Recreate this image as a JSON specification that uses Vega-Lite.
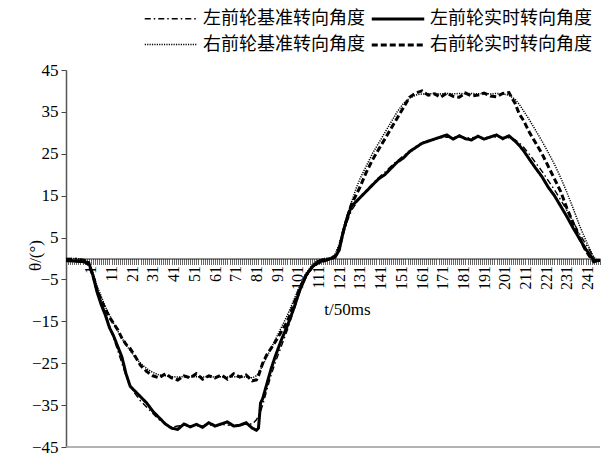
{
  "$schema": "https://vega.github.io/schema/vega-lite/v6.json",
  "width": 534,
  "height": 377,
  "autosize": {"type": "none"},
  "padding": {"left": 66, "top": 70, "right": 8, "bottom": 7},
  "background": "white",
  "config": {"view": {"stroke": null}, "font": "Liberation Serif"},
  "layer": [
    {
      "data": {"values": [
        {"t": -11, "左前轮基准转向角度": 0, "左前轮实时转向角度": -0.5, "右前轮基准转向角度": 0, "右前轮实时转向角度": -0.5},
        {"t": -6, "左前轮基准转向角度": 0, "左前轮实时转向角度": -0.6, "右前轮基准转向角度": 0, "右前轮实时转向角度": -0.6},
        {"t": -2, "左前轮基准转向角度": -0.3, "左前轮实时转向角度": -0.8, "右前轮基准转向角度": -0.3, "右前轮实时转向角度": -0.8},
        {"t": 0, "左前轮基准转向角度": -1, "左前轮实时转向角度": -1, "右前轮基准转向角度": -1, "右前轮实时转向角度": -1.5},
        {"t": 2, "左前轮基准转向角度": -3.5, "左前轮实时转向角度": -4, "右前轮基准转向角度": -3.5, "右前轮实时转向角度": -4},
        {"t": 4, "左前轮基准转向角度": -7, "左前轮实时转向角度": -8, "右前轮基准转向角度": -6.5, "右前轮实时转向角度": -7.5},
        {"t": 6, "左前轮基准转向角度": -10, "左前轮实时转向角度": -11, "右前轮基准转向角度": -9, "右前轮实时转向角度": -10},
        {"t": 8, "左前轮基准转向角度": -13, "左前轮实时转向角度": -13.5, "右前轮基准转向角度": -11.5, "右前轮实时转向角度": -12},
        {"t": 10, "左前轮基准转向角度": -16, "左前轮实时转向角度": -16.5, "右前轮基准转向角度": -13.5, "右前轮实时转向角度": -14},
        {"t": 12, "左前轮基准转向角度": -19, "左前轮实时转向角度": -18.5, "右前轮基准转向角度": -15.5, "右前轮实时转向角度": -15.5},
        {"t": 14, "左前轮基准转向角度": -22, "左前轮实时转向角度": -21, "右前轮基准转向角度": -17.3, "右前轮实时转向角度": -17},
        {"t": 16, "左前轮基准转向角度": -25, "左前轮实时转向角度": -23.5, "右前轮基准转向角度": -19, "右前轮实时转向角度": -19},
        {"t": 18, "左前轮基准转向角度": -28, "左前轮实时转向角度": -27.5, "右前轮基准转向角度": -20.6, "右前轮实时转向角度": -20.5},
        {"t": 20, "左前轮基准转向角度": -30.5, "左前轮实时转向角度": -30.5, "右前轮基准转向角度": -22, "右前轮实时转向角度": -21.5},
        {"t": 22, "左前轮基准转向角度": -32, "左前轮实时转向角度": -31.5, "右前轮基准转向角度": -23.3, "右前轮实时转向角度": -23},
        {"t": 25, "左前轮基准转向角度": -34, "左前轮实时转向角度": -33, "右前轮基准转向角度": -25, "右前轮实时转向角度": -25.5},
        {"t": 28, "左前轮基准转向角度": -35.5, "左前轮实时转向角度": -34.5, "右前轮基准转向角度": -26.3, "右前轮实时转向角度": -27},
        {"t": 31, "左前轮基准转向角度": -37, "左前轮实时转向角度": -36.5, "右前轮基准转向角度": -27.2, "右前轮实时转向角度": -28},
        {"t": 34, "左前轮基准转向角度": -38.5, "左前轮实时转向角度": -38, "右前轮基准转向角度": -27.8, "右前轮实时转向角度": -28.5},
        {"t": 37, "左前轮基准转向角度": -39.5, "左前轮实时转向角度": -39.5, "右前轮基准转向角度": -28, "右前轮实时转向角度": -27.5},
        {"t": 40, "左前轮基准转向角度": -40.3, "左前轮实时转向角度": -40.5, "右前轮基准转向角度": -28.2, "右前轮实时转向角度": -28.5},
        {"t": 43, "左前轮基准转向角度": -40, "左前轮实时转向角度": -40.8, "右前轮基准转向角度": -28.3, "右前轮实时转向角度": -29},
        {"t": 46, "左前轮基准转向角度": -39.8, "左前轮实时转向角度": -39.5, "右前轮基准转向角度": -28.2, "右前轮实时转向角度": -28},
        {"t": 49, "左前轮基准转向角度": -40, "左前轮实时转向角度": -40.2, "右前轮基准转向角度": -28.3, "右前轮实时转向角度": -28.5},
        {"t": 52, "左前轮基准转向角度": -39.8, "左前轮实时转向角度": -39.6, "右前轮基准转向角度": -28.2, "右前轮实时转向角度": -27.5},
        {"t": 55, "左前轮基准转向角度": -40, "左前轮实时转向角度": -40.3, "右前轮基准转向角度": -28.3, "右前轮实时转向角度": -28.8},
        {"t": 58, "左前轮基准转向角度": -39.7, "左前轮实时转向角度": -39.2, "右前轮基准转向角度": -28.2, "右前轮实时转向角度": -28},
        {"t": 61, "左前轮基准转向角度": -39.9, "左前轮实时转向角度": -40, "右前轮基准转向角度": -28.3, "右前轮实时转向角度": -28.5},
        {"t": 64, "左前轮基准转向角度": -39.6, "左前轮实时转向角度": -39.5, "右前轮基准转向角度": -28.2, "右前轮实时转向角度": -27.8},
        {"t": 67, "左前轮基准转向角度": -39.8, "左前轮实时转向角度": -39, "右前轮基准转向角度": -28.3, "右前轮实时转向角度": -28.8},
        {"t": 70, "左前轮基准转向角度": -39.6, "左前轮实时转向角度": -40, "右前轮基准转向角度": -28.2, "右前轮实时转向角度": -27.5},
        {"t": 73, "左前轮基准转向角度": -39.8, "左前轮实时转向角度": -39.8, "右前轮基准转向角度": -28.3, "右前轮实时转向角度": -28.3},
        {"t": 76, "左前轮基准转向角度": -39.5, "左前轮实时转向角度": -39.2, "右前轮基准转向角度": -28.3, "右前轮实时转向角度": -27.8},
        {"t": 79, "左前轮基准转向角度": -39.5, "左前轮实时转向角度": -40.5, "右前轮基准转向角度": -28.5, "右前轮实时转向角度": -29.2},
        {"t": 81, "左前轮基准转向角度": -38.5, "左前轮实时转向角度": -41, "右前轮基准转向角度": -28, "右前轮实时转向角度": -29},
        {"t": 82, "左前轮基准转向角度": -37.5, "左前轮实时转向角度": -40.5, "右前轮基准转向角度": -27.3, "右前轮实时转向角度": -28},
        {"t": 83, "左前轮基准转向角度": -36.5, "左前轮实时转向角度": -34.5, "右前轮基准转向角度": -26.5, "右前轮实时转向角度": -26.5},
        {"t": 84, "左前轮基准转向角度": -35, "左前轮实时转向角度": -33.5, "右前轮基准转向角度": -25.5, "右前轮实时转向角度": -25},
        {"t": 86, "左前轮基准转向角度": -31.5, "左前轮实时转向角度": -30, "右前轮基准转向角度": -23.5, "右前轮实时转向角度": -23},
        {"t": 88, "左前轮基准转向角度": -28, "左前轮实时转向角度": -26.5, "右前轮基准转向角度": -21.5, "右前轮实时转向角度": -21.5},
        {"t": 90, "左前轮基准转向角度": -25, "左前轮实时转向角度": -23.5, "右前轮基准转向角度": -19.5, "右前轮实时转向角度": -20},
        {"t": 93, "左前轮基准转向角度": -21, "左前轮实时转向角度": -19.5, "右前轮基准转向角度": -16.5, "右前轮实时转向角度": -17.5},
        {"t": 96, "左前轮基准转向角度": -17, "左前轮实时转向角度": -16, "右前轮基准转向角度": -13.5, "右前轮实时转向角度": -15},
        {"t": 99, "左前轮基准转向角度": -12.5, "左前轮实时转向角度": -12, "右前轮基准转向角度": -10, "右前轮实时转向角度": -11},
        {"t": 102, "左前轮基准转向角度": -8, "左前轮实时转向角度": -7.5, "右前轮基准转向角度": -6.5, "右前轮实时转向角度": -7},
        {"t": 105, "左前轮基准转向角度": -4.5, "左前轮实时转向角度": -4, "右前轮基准转向角度": -3.5, "右前轮实时转向角度": -4},
        {"t": 108, "左前轮基准转向角度": -2, "左前轮实时转向角度": -2, "右前轮基准转向角度": -1.5, "右前轮实时转向角度": -2},
        {"t": 111, "左前轮基准转向角度": -0.5, "左前轮实时转向角度": -0.8, "右前轮基准转向角度": -0.3, "右前轮实时转向角度": -1},
        {"t": 114, "左前轮基准转向角度": 0, "左前轮实时转向角度": -0.5, "右前轮基准转向角度": 0, "右前轮实时转向角度": -0.5},
        {"t": 117, "左前轮基准转向角度": 0, "左前轮实时转向角度": 0, "右前轮基准转向角度": 0.2, "右前轮实时转向角度": 0},
        {"t": 119, "左前轮基准转向角度": 0.5, "左前轮实时转向角度": 0.3, "右前轮基准转向角度": 1, "右前轮实时转向角度": 0.5},
        {"t": 121, "左前轮基准转向角度": 2.5, "左前轮实时转向角度": 2, "右前轮基准转向角度": 3.5, "右前轮实时转向角度": 2.5},
        {"t": 123, "左前轮基准转向角度": 6, "左前轮实时转向角度": 6.5, "右前轮基准转向角度": 7, "右前轮实时转向角度": 6.5},
        {"t": 125, "左前轮基准转向角度": 9, "左前轮实时转向角度": 10, "右前轮基准转向角度": 10.5, "右前轮实时转向角度": 10},
        {"t": 127, "左前轮基准转向角度": 11.5, "左前轮实时转向角度": 12.5, "右前轮基准转向角度": 13.5, "右前轮实时转向角度": 13},
        {"t": 129, "左前轮基准转向角度": 13, "左前轮实时转向角度": 13.5, "右前轮基准转向角度": 16.5, "右前轮实时转向角度": 15},
        {"t": 131, "左前轮基准转向角度": 14.5, "左前轮实时转向角度": 14.5, "右前轮基准转向角度": 19, "右前轮实时转向角度": 17},
        {"t": 134, "左前轮基准转向角度": 16.2, "左前轮实时转向角度": 16, "右前轮基准转向角度": 22, "右前轮实时转向角度": 20.5},
        {"t": 137, "左前轮基准转向角度": 17.8, "左前轮实时转向角度": 17.5, "右前轮基准转向角度": 25, "右前轮实时转向角度": 23.5},
        {"t": 140, "左前轮基准转向角度": 19.3, "左前轮实时转向角度": 19, "右前轮基准转向角度": 27.5, "右前轮实时转向角度": 26},
        {"t": 143, "左前轮基准转向角度": 20.6, "左前轮实时转向角度": 20, "右前轮基准转向角度": 30, "右前轮实时转向角度": 28.5},
        {"t": 146, "左前轮基准转向角度": 22, "左前轮实时转向角度": 21.5, "右前轮基准转向角度": 32.5, "右前轮实时转向角度": 31},
        {"t": 149, "左前轮基准转向角度": 23.3, "左前轮实时转向角度": 23, "右前轮基准转向角度": 35, "右前轮实时转向角度": 33.5},
        {"t": 152, "左前轮基准转向角度": 24.5, "左前轮实时转向角度": 24, "右前轮基准转向角度": 37, "右前轮实时转向角度": 36},
        {"t": 155, "左前轮基准转向角度": 25.7, "左前轮实时转向角度": 25.5, "右前轮基准转向角度": 38.3, "右前轮实时转向角度": 38.5},
        {"t": 158, "左前轮基准转向角度": 26.7, "左前轮实时转向角度": 26.5, "右前轮基准转向角度": 39, "右前轮实时转向角度": 39.5},
        {"t": 161, "左前轮基准转向角度": 27.6, "左前轮实时转向角度": 27.5, "右前轮基准转向角度": 39.3, "右前轮实时转向角度": 40},
        {"t": 164, "左前轮基准转向角度": 28.2, "左前轮实时转向角度": 28, "右前轮基准转向角度": 39.3, "右前轮实时转向角度": 39},
        {"t": 167, "左前轮基准转向角度": 28.6, "左前轮实时转向角度": 28.5, "右前轮基准转向角度": 39.4, "右前轮实时转向角度": 39.3},
        {"t": 170, "左前轮基准转向角度": 28.8, "左前轮实时转向角度": 29, "右前轮基准转向角度": 39.3, "右前轮实时转向角度": 38.5},
        {"t": 173, "左前轮基准转向角度": 29, "左前轮实时转向角度": 29.5, "右前轮基准转向角度": 39.4, "右前轮实时转向角度": 39.5},
        {"t": 176, "左前轮基准转向角度": 28.9, "左前轮实时转向角度": 28.5, "右前轮基准转向角度": 39.3, "右前轮实时转向角度": 38.7},
        {"t": 179, "左前轮基准转向角度": 29, "左前轮实时转向角度": 29.3, "右前轮基准转向角度": 39.4, "右前轮实时转向角度": 38.5},
        {"t": 182, "左前轮基准转向角度": 28.8, "左前轮实时转向角度": 28.6, "右前轮基准转向角度": 39.3, "右前轮实时转向角度": 39.5},
        {"t": 185, "左前轮基准转向角度": 28.8, "左前轮实时转向角度": 28.3, "右前轮基准转向角度": 39.4, "右前轮实时转向角度": 38.8},
        {"t": 188, "左前轮基准转向角度": 29, "左前轮实时转向角度": 29.2, "右前轮基准转向角度": 39.3, "右前轮实时转向角度": 39},
        {"t": 191, "左前轮基准转向角度": 28.8, "左前轮实时转向角度": 28.5, "右前轮基准转向角度": 39.4, "右前轮实时转向角度": 39.5},
        {"t": 194, "左前轮基准转向角度": 29, "左前轮实时转向角度": 29, "右前轮基准转向角度": 39.3, "右前轮实时转向角度": 38.8},
        {"t": 197, "左前轮基准转向角度": 29, "左前轮实时转向角度": 29.5, "右前轮基准转向角度": 39.4, "右前轮实时转向角度": 38.6},
        {"t": 200, "左前轮基准转向角度": 28.9, "左前轮实时转向角度": 28.6, "右前轮基准转向角度": 39.3, "右前轮实时转向角度": 39.4},
        {"t": 203, "左前轮基准转向角度": 28.8, "左前轮实时转向角度": 29.3, "右前轮基准转向角度": 39, "右前轮实时转向角度": 39.6},
        {"t": 206, "左前轮基准转向角度": 28.3, "左前轮实时转向角度": 28, "右前轮基准转向角度": 38, "右前轮实时转向角度": 37},
        {"t": 208, "左前轮基准转向角度": 27.6, "左前轮实时转向角度": 27, "右前轮基准转向角度": 36.8, "右前轮实时转向角度": 34.5},
        {"t": 210, "左前轮基准转向角度": 26.6, "左前轮实时转向角度": 25.8, "右前轮基准转向角度": 35.3, "右前轮实时转向角度": 33},
        {"t": 213, "左前轮基准转向角度": 24.8, "左前轮实时转向角度": 23.6, "右前轮基准转向角度": 33, "右前轮实时转向角度": 30},
        {"t": 216, "左前轮基准转向角度": 22.8, "左前轮实时转向角度": 21.5, "右前轮基准转向角度": 30.5, "右前轮实时转向角度": 27.5},
        {"t": 219, "左前轮基准转向角度": 20.8, "左前轮实时转向角度": 19.5, "右前轮基准转向角度": 28, "右前轮实时转向角度": 25},
        {"t": 222, "左前轮基准转向角度": 18.6, "左前轮实时转向角度": 17, "右前轮基准转向角度": 25.3, "右前轮实时转向角度": 22},
        {"t": 225, "左前轮基准转向角度": 16.4, "左前轮实时转向角度": 15, "右前轮基准转向角度": 22.5, "右前轮实时转向角度": 19},
        {"t": 228, "左前轮基准转向角度": 14, "左前轮实时转向角度": 12.5, "右前轮基准转向角度": 19.3, "右前轮实时转向角度": 16},
        {"t": 231, "左前轮基准转向角度": 11.5, "左前轮实时转向角度": 10, "右前轮基准转向角度": 15.8, "右前轮实时转向角度": 12},
        {"t": 234, "左前轮基准转向角度": 8.8, "左前轮实时转向角度": 7.3, "右前轮基准转向角度": 12, "右前轮实时转向角度": 8.5},
        {"t": 237, "左前轮基准转向角度": 6, "左前轮实时转向角度": 4.8, "右前轮基准转向角度": 8, "右前轮实时转向角度": 5},
        {"t": 240, "左前轮基准转向角度": 3.5, "左前轮实时转向角度": 2.3, "右前轮基准转向角度": 4.5, "右前轮实时转向角度": 2},
        {"t": 242, "左前轮基准转向角度": 2, "左前轮实时转向角度": 1, "右前轮基准转向角度": 2.3, "右前轮实时转向角度": 0.5},
        {"t": 244, "左前轮基准转向角度": 0.3, "左前轮实时转向角度": -0.5, "右前轮基准转向角度": 0.3, "右前轮实时转向角度": -0.8},
        {"t": 246, "左前轮基准转向角度": -0.5, "左前轮实时转向角度": -0.5, "右前轮基准转向角度": -0.6, "右前轮实时转向角度": -0.5},
        {"t": 247, "左前轮基准转向角度": -0.5, "左前轮实时转向角度": -0.5, "右前轮基准转向角度": -0.6, "右前轮实时转向角度": -0.5}
      ]},
      "transform": [
        {"fold": ["左前轮基准转向角度", "左前轮实时转向角度", "右前轮基准转向角度", "右前轮实时转向角度"], "as": ["series", "v"]}
      ],
      "mark": {"type": "line", "color": "black", "strokeCap": "butt"},
      "encoding": {
        "x": {
          "field": "t", "type": "quantitative",
          "scale": {"domain": [-11, 247], "nice": false, "zero": false},
          "axis": {
            "orient": "bottom", "offset": -188.5, "tickCount": 258,
            "labelExpr": "datum.value >= 1 && (datum.value - 1) % 10 == 0 ? datum.value : ''",
            "labelOverlap": false, "labelFlush": false, "labelBound": false,
            "labelAngle": -90, "labelAlign": "right", "labelBaseline": "middle",
            "labelFont": "Liberation Serif", "labelFontSize": 16, "labelColor": "black", "labelPadding": 1,
            "tickSize": 6, "tickWidth": 0.7, "tickColor": "#222",
            "domainColor": "#222", "domainWidth": 1, "grid": false,
            "title": "t/50ms", "titleFont": "Liberation Serif", "titleFontSize": 17, "titleFontWeight": "normal",
            "titleColor": "black", "titleX": 281, "titleY": 51, "titleAlign": "center", "titleBaseline": "middle"
          }
        },
        "y": {
          "field": "v", "type": "quantitative",
          "scale": {"domain": [-45, 45], "nice": false, "zero": false},
          "axis": {
            "values": [-45, -35, -25, -15, -5, 5, 15, 25, 35, 45],
            "labelFont": "Liberation Serif", "labelFontSize": 17, "labelColor": "black", "labelPadding": 3,
            "tickSize": 5, "tickColor": "#444", "domainColor": "#555", "domainWidth": 1.5, "grid": false,
            "title": "θ/(°)", "titleFont": "Liberation Serif", "titleFontSize": 17, "titleFontWeight": "normal",
            "titleColor": "black", "titleX": -31, "titleY": 185, "titleAlign": "center", "titleBaseline": "middle", "titleAngle": -90
          }
        },
        "strokeDash": {
          "field": "series", "type": "nominal",
          "scale": {"domain": ["左前轮基准转向角度", "左前轮实时转向角度", "右前轮基准转向角度", "右前轮实时转向角度"], "range": [[6, 3, 1.5, 3], [1, 0], [1.2, 1.2], [6, 3]]},
          "legend": {"orient": "none", "legendX": 93, "legendY": -63, "direction": "horizontal", "columns": 2, "title": null, "symbolType": "M-2.5,0H2.5", "symbolSize": 441, "symbolStrokeColor": "black", "labelFont": "Noto Sans CJK SC", "labelFontSize": 18, "labelLimit": 400, "labelColor": "black", "columnPadding": 0, "rowPadding": 5, "labelOffset": 20, "symbolOffset": 0}
        },
        "strokeWidth": {
          "field": "series", "type": "nominal",
          "scale": {"type": "ordinal", "domain": ["左前轮基准转向角度", "左前轮实时转向角度", "右前轮基准转向角度", "右前轮实时转向角度"], "range": [1.4, 3, 1.5, 3]},
          "legend": {"orient": "none", "legendX": 93, "legendY": -63, "direction": "horizontal", "columns": 2, "title": null, "symbolType": "M-2.5,0H2.5", "symbolSize": 441, "symbolStrokeColor": "black", "labelFont": "Noto Sans CJK SC", "labelFontSize": 18, "labelLimit": 400, "labelColor": "black", "columnPadding": 0, "rowPadding": 5, "labelOffset": 20, "symbolOffset": 0}
        }
      }
    },
    {
      "data": {"values": [{}]},
      "mark": {"type": "rule", "color": "#999", "strokeWidth": 1.5},
      "encoding": {"y": {"datum": -45, "type": "quantitative"}}
    }
  ]
}
